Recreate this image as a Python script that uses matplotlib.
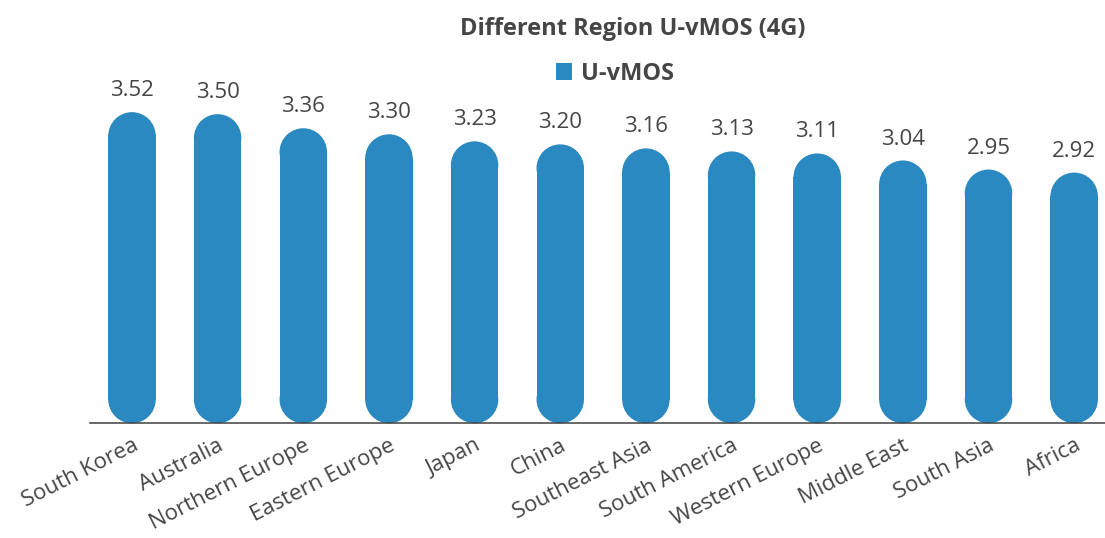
import matplotlib
matplotlib.use("Agg")
import matplotlib.pyplot as plt
from matplotlib.patches import Rectangle, Ellipse, Patch
from matplotlib.transforms import ScaledTranslation

plt.rcParams['font.family'] = ['Open Sans', 'DejaVu Sans']

regions = ["South Korea", "Australia", "Northern Europe", "Eastern Europe", "Japan",
           "China", "Southeast Asia", "South America", "Western Europe",
           "Middle East", "South Asia", "Africa"]
uvmos = [3.52, 3.50, 3.36, 3.30, 3.23, 3.20, 3.16, 3.13, 3.11, 3.04, 2.95, 2.92]

title = "Different Region U-vMOS (4G)"
series_name = "U-vMOS"

BAR_COLOR = "#2b89c1"
TEXT_COLOR = "#454545"
W, H = 1105, 538

fig = plt.figure(figsize=(W / 100, H / 100), dpi=100)
ax = fig.add_axes([90 / W, (H - 423.3) / H, (W - 90) / W, (423.3 - 100) / H])

y_floor = 0.43
ax.set_xlim(-0.49, 11.36)
ax.set_ylim(y_floor, y_floor + 323.3 / 100.7)

# pixels per data unit on each axis, so the bar ends come out as true half-circles
p0 = ax.transData.transform((0, 0))
p1 = ax.transData.transform((1, 1))
x_px, y_px = p1[0] - p0[0], p1[1] - p0[1]

bar_w = 0.554
ry = (bar_w / 2) * x_px / y_px
for i, v in enumerate(uvmos):
    ax.add_patch(Rectangle((i - bar_w / 2, y_floor + ry * 0.98), bar_w,
                           (v - y_floor) - 2 * ry * 0.98, facecolor=BAR_COLOR,
                           edgecolor="none", clip_on=False, zorder=2))
    for cy in (v - ry, y_floor + ry):
        ax.add_patch(Ellipse((i, cy), bar_w, 2 * ry, facecolor=BAR_COLOR,
                             edgecolor="none", clip_on=False, zorder=2))
    ax.annotate(f"{v:.2f}", (i, v), xytext=(0, 11.5), textcoords="offset points",
                ha="center", va="baseline", fontsize=16, color=TEXT_COLOR)

ax.set_xticks(range(len(regions)))
ax.set_xticklabels(regions, rotation=27, ha="right", rotation_mode="anchor",
                   fontsize=16, color=TEXT_COLOR)
shift = ScaledTranslation(5 / 100, 0, fig.dpi_scale_trans)
for lab in ax.get_xticklabels():
    lab.set_transform(lab.get_transform() + shift)
ax.tick_params(axis="x", length=0, pad=8.5)
ax.set_yticks([])
for s in ("left", "right", "top"):
    ax.spines[s].set_visible(False)
ax.spines["bottom"].set_color("#404040")
ax.spines["bottom"].set_linewidth(1.1)
ax.spines["bottom"].set_zorder(3)

fig.text(633 / W, 1 - 35 / H, title, ha="center", va="baseline",
         fontsize=17, fontweight="bold", color=TEXT_COLOR)

fig.legend(handles=[Patch(facecolor=BAR_COLOR, edgecolor="none")], labels=[series_name],
           loc="center", bbox_to_anchor=(615 / W, 1 - 74 / H), frameon=False,
           handlelength=0.7, handleheight=0.7, handletextpad=0.4,
           prop={"size": 17, "weight": "bold"}, labelcolor=TEXT_COLOR)

fig.savefig("out.png", dpi=100, facecolor="white")
